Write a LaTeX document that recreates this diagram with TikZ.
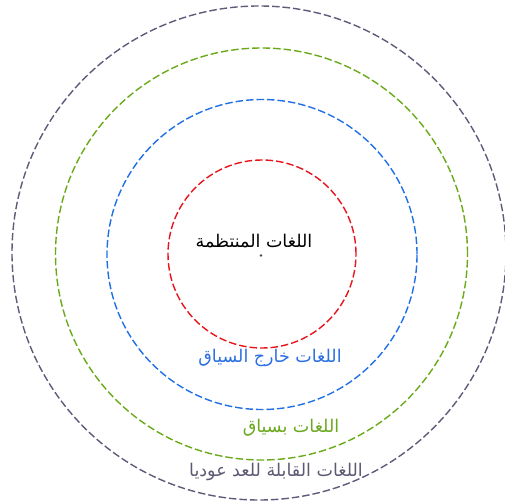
\documentclass[tikz,border=0pt]{standalone}
\usepackage{fontspec}
\newfontfamily\arabicfont[Script=Arabic]{DejaVu Sans}
\TeXXeTstate=1
\definecolor{ringgrey}{HTML}{5E5B7A}
\definecolor{ringgreen}{HTML}{6AAA1A}
\definecolor{ringblue}{HTML}{1F6FE8}
\definecolor{ringred}{HTML}{E8141C}
\definecolor{txtgrey}{HTML}{5C5A72}
\definecolor{txtgreen}{HTML}{6AA81E}
\definecolor{txtblue}{HTML}{2A70E2}
\begin{document}
\begin{tikzpicture}[x=1pt,y=-1pt,
  ring/.style={circle, inner sep=0pt, dash pattern=on 7.5pt off 3pt, line width=1.4pt},
  lbl/.style={font=\arabicfont\fontsize{17.5}{20}\selectfont, inner sep=0pt}]
\useasboundingbox (0,0) rectangle (505,502);
\fill[white] (0,0) rectangle (505,502);
\node[ring, draw=ringgrey, minimum size=494pt] (outer) at (259,253) {};
\node[ring, draw=ringgreen, minimum size=412pt] (green) at (261.5,254) {};
\node[ring, draw=ringblue, minimum size=310pt] (blue) at (262,254.5) {};
\node[ring, draw=ringred, minimum size=188pt] (red) at (262,254) {};
\fill[black!70] (261,255.5) circle (1.3pt) coordinate (ctr);
\node[lbl, text=black] (t1) at (254,241.5) {\beginR اللغات المنتظمة\endR};
\node[lbl, text=txtblue] (t2) at (270,357.5) {\beginR اللغات خارج السياق\endR};
\node[lbl, text=txtgreen] (t3) at (291,427.5) {\beginR اللغات بسياق\endR};
\node[lbl, text=txtgrey] (t4) at (276,471.5) {\beginR اللغات القابلة للعد عوديا\endR};
\end{tikzpicture}
\end{document}
